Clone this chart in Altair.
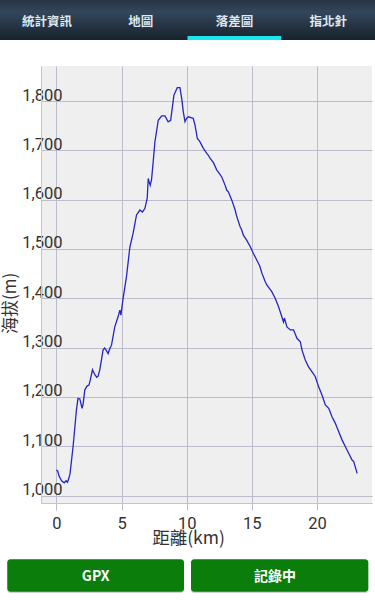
import altair as alt
import pandas as pd

# Elevation profile
dist = [0.00, 0.10, 0.20, 0.40, 0.60, 0.75, 0.85, 0.95, 1.05, 1.28, 1.54, 1.66, 1.80, 1.97, 2.05,
        2.18, 2.35, 2.50, 2.60, 2.77, 2.95, 3.10, 3.20, 3.33, 3.46, 3.58, 3.70, 3.80, 3.97, 4.10,
        4.23, 4.48, 4.74, 4.87, 4.95, 5.12, 5.38, 5.64, 5.89, 6.15, 6.41, 6.60, 6.79, 6.97, 7.05,
        7.12, 7.20, 7.30, 7.43, 7.56, 7.82, 8.08, 8.33, 8.58, 8.77, 8.89, 9.02, 9.28, 9.48, 9.62,
        9.74, 9.87, 10.00, 10.15, 10.38, 10.50, 10.64, 10.82, 11.02, 11.28, 11.54, 11.66, 11.79,
        12.05, 12.31, 12.43, 12.69, 12.95, 13.08, 13.20, 13.46, 13.72, 13.80, 13.89, 14.10, 14.20,
        14.35, 14.60, 14.87, 15.12, 15.50, 15.60, 15.77, 16.02, 16.15, 16.54, 16.79, 17.05, 17.43,
        17.50, 17.69, 17.95, 18.20, 18.46, 18.72, 18.85, 19.10, 19.35, 19.62, 19.70, 19.87, 20.12,
        20.38, 20.64, 20.90, 21.15, 21.40, 21.66, 21.92, 22.18, 22.43, 22.69, 22.82, 23.08]
elev = [1052, 1050, 1040, 1030, 1026, 1030, 1027, 1034, 1045, 1099, 1174, 1197, 1196, 1177, 1185,
        1214, 1222, 1224, 1234, 1255, 1245, 1240, 1242, 1255, 1275, 1295, 1299, 1296, 1288, 1298,
        1305, 1342, 1363, 1376, 1366, 1400, 1444, 1504, 1532, 1569, 1579, 1575, 1582, 1603, 1643,
        1636, 1629, 1640, 1677, 1717, 1761, 1770, 1770, 1758, 1761, 1785, 1812, 1827, 1827, 1805,
        1778, 1758, 1765, 1768, 1766, 1765, 1751, 1724, 1717, 1704, 1694, 1690, 1684,
        1675, 1660, 1656, 1646, 1629, 1619, 1616, 1599, 1579, 1570, 1562, 1545, 1540,
        1528, 1518, 1505, 1491, 1471, 1466, 1451, 1434, 1427, 1413, 1400, 1383, 1352,
        1360, 1342, 1336, 1336, 1319, 1312, 1295, 1275, 1261, 1251, 1248, 1241, 1221,
        1204, 1184, 1177, 1160, 1147, 1130, 1113, 1099, 1086, 1072, 1069, 1045]

x_ticks = [0, 5, 10, 15, 20]
y_ticks = [1000, 1100, 1200, 1300, 1400, 1500, 1600, 1700, 1800]

tabs = ["統計資訊", "地圖", "落差圖", "指北針"]
buttons = ["GPX", "記錄中"]

FONT = "Roboto, 'Noto Sans CJK TC', sans-serif"
CJK = "'Noto Sans CJK TC', Roboto, sans-serif"
GRID = "#bcbccc"

df = pd.DataFrame({"d": dist, "e": elev})

line = alt.Chart(df).mark_line(color="#2424c8", strokeWidth=1.3).encode(
    x=alt.X("d:Q", scale=alt.Scale(domain=[-1.18, 24.22], nice=False, zero=False),
            axis=alt.Axis(values=x_ticks, grid=True, gridColor=GRID, ticks=True, tickSize=7,
                          tickColor=GRID, domain=True, domainColor="#c4c4cc",
                          labelFontSize=16.5, labelFont=FONT, labelColor="#333333",
                          labelPadding=5, title="距離(km)", titleFont=CJK, titleFontSize=17.5,
                          titleFontWeight="normal", titleColor="#333333", titleX=147, titleY=35.5,
                          titleBaseline="middle")),
    y=alt.Y("e:Q", scale=alt.Scale(domain=[985, 1871], nice=False, zero=False),
            axis=alt.Axis(values=y_ticks, format=",d", grid=True, gridColor=GRID, ticks=False,
                          domain=True, domainColor="#c4c4cc", labelAlign="right",
                          labelBaseline="alphabetic", labelPadding=-21, labelOffset=-1,
                          labelOverlap=False, labelFontSize=16.5, labelFont=FONT,
                          labelColor="#333333", title="海拔(m)", titleFont=CJK,
                          titleFontSize=17, titleFontWeight="normal", titleColor="#333333",
                          titleX=-31, titleY=237, titleAngle=270, titleBaseline="middle")),
)

one = pd.DataFrame({"k": [0]})

grad = alt.LinearGradient(
    gradient="linear",
    stops=[alt.GradientStop(color="#263443", offset=0),
           alt.GradientStop(color="#33465a", offset=0.3),
           alt.GradientStop(color="#17222d", offset=1)],
    x1=0, x2=0, y1=0, y2=1)

tabbar = alt.Chart(one).mark_rect(color=grad).encode(
    x=alt.value(-41), x2=alt.value(334), y=alt.value(-66), y2=alt.value(-26))

underline = alt.Chart(one).mark_rect(color="#19e6ee").encode(
    x=alt.value(146.5), x2=alt.value(240.25), y=alt.value(-30), y2=alt.value(-26))

tab_df = pd.DataFrame({"t": tabs, "i": [0, 1, 2, 3]})
tab_text = alt.Chart(tab_df).mark_text(font=CJK, fontSize=12.5, fontWeight="bold",
                                       color="#dfe6ee", baseline="middle").encode(
    text="t:N",
    x=alt.X("i:Q", scale=alt.Scale(domain=[-0.0629, 3.4677], nice=False, zero=False), axis=None),
    y=alt.value(-44.5))

btn_df = pd.DataFrame({"b": buttons, "x0": [-33.7, 150], "x1": [143, 327.3], "xc": [54.7, 234]})

btn_shadow = alt.Chart(btn_df).mark_rect(
    color="#9a9a9a", opacity=0.45, cornerRadius=3).encode(
    x=alt.X("x0:Q", scale=None), x2="x1:Q", y=alt.value(494.5), y2=alt.value(527))

btn = alt.Chart(btn_df).mark_rect(
    color="#0b7d0b", cornerRadius=3).encode(
    x=alt.X("x0:Q", scale=None), x2="x1:Q", y=alt.value(493.3), y2=alt.value(525.7))

btn_text = alt.Chart(btn_df).mark_text(
    font=CJK, fontSize=14, fontWeight="bold", color="white", baseline="middle").encode(
    text="b:N", x=alt.X("xc:Q", scale=None), y=alt.value(510.7))

chart = alt.layer(line, tabbar, underline, tab_text, btn_shadow, btn, btn_text).resolve_scale(
    x="independent"
).properties(
    width=331, height=437,
    autosize=alt.AutoSizeParams(type="none"),
    padding={"left": 41, "top": 66, "right": 3, "bottom": 97},
    background="white",
).configure_view(fill="#efefef", stroke=None)

chart.save("out.html", embed_options={"renderer": "svg", "actions": False})
